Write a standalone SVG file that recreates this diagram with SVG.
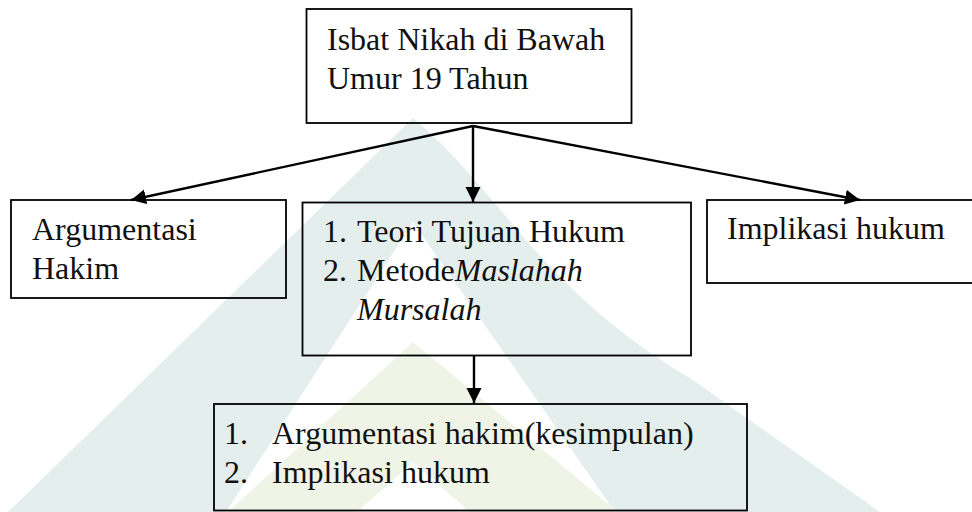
<svg xmlns="http://www.w3.org/2000/svg" width="972" height="512" viewBox="0 0 972 512">
  <defs>
    <marker id="ah" markerUnits="userSpaceOnUse" markerWidth="16" markerHeight="16" viewBox="0 0 16 16" refX="15" refY="7.5" orient="auto">
      <path d="M0,0 L15,7.5 L0,15 Z" fill="#000"/>
    </marker>
  </defs>
  <style>
    .box { fill: none; stroke: #000; stroke-width: 1.8; }
    .t { font-family: "Liberation Serif", "Times New Roman", serif; font-size: 32px; fill: #111; }
    .i { font-style: italic; }
    .c { stroke: #000; stroke-width: 2.4; fill: none; marker-end: url(#ah); }
  </style>
  <rect x="0" y="0" width="972" height="512" fill="#fff"/>
  <g id="watermark">
    <path d="M413,118 C500,190 540,290 690,378 L880,512 L8,512 Z M413,222 L226,512 L615,512 Z" fill="#e4efed" fill-rule="evenodd"/>
    <path d="M413,342 L618,512 L228,512 Z M413,462 L357,512 L470,512 Z" fill="#eff4e6" fill-rule="evenodd"/>
  </g>
  <g id="connectors">
    <line class="c" x1="473" y1="126" x2="131" y2="200"/>
    <line class="c" x1="473" y1="126" x2="473" y2="202"/>
    <line class="c" x1="473" y1="126" x2="860" y2="200"/>
    <line class="c" x1="474" y1="356" x2="474" y2="403"/>
  </g>
  <g id="n-top">
    <rect class="box" x="306.5" y="9" width="325" height="114"/>
    <text class="t" font-family="Liberation Serif, serif" x="327" y="50">Isbat Nikah di Bawah</text>
    <text class="t" font-family="Liberation Serif, serif" x="327" y="89">Umur 19 Tahun</text>
  </g>
  <g id="n-argumentasi">
    <rect class="box" x="11" y="200" width="275" height="98"/>
    <text class="t" x="32" y="240">Argumentasi</text>
    <text class="t" x="32" y="279">Hakim</text>
  </g>
  <g id="n-teori">
    <rect class="box" x="302.5" y="202.5" width="388.5" height="153"/>
    <text class="t" x="323" y="242">1.</text>
    <text class="t" x="357" y="242">Teori Tujuan Hukum</text>
    <text class="t" x="323" y="281">2.</text>
    <text class="t" x="357" y="281">Metode<tspan class="i">Maslahah</tspan></text>
    <text class="t i" x="357" y="320">Mursalah</text>
  </g>
  <g id="n-implikasi">
    <rect class="box" x="707" y="200" width="272" height="83"/>
    <text class="t" x="727" y="239">Implikasi hukum</text>
  </g>
  <g id="n-kesimpulan">
    <rect class="box" x="214" y="404" width="533" height="106.5"/>
    <text class="t" x="224" y="444">1.</text>
    <text class="t" x="272" y="444">Argumentasi hakim(kesimpulan)</text>
    <text class="t" x="224" y="483">2.</text>
    <text class="t" x="272" y="483">Implikasi hukum</text>
  </g>
</svg>
